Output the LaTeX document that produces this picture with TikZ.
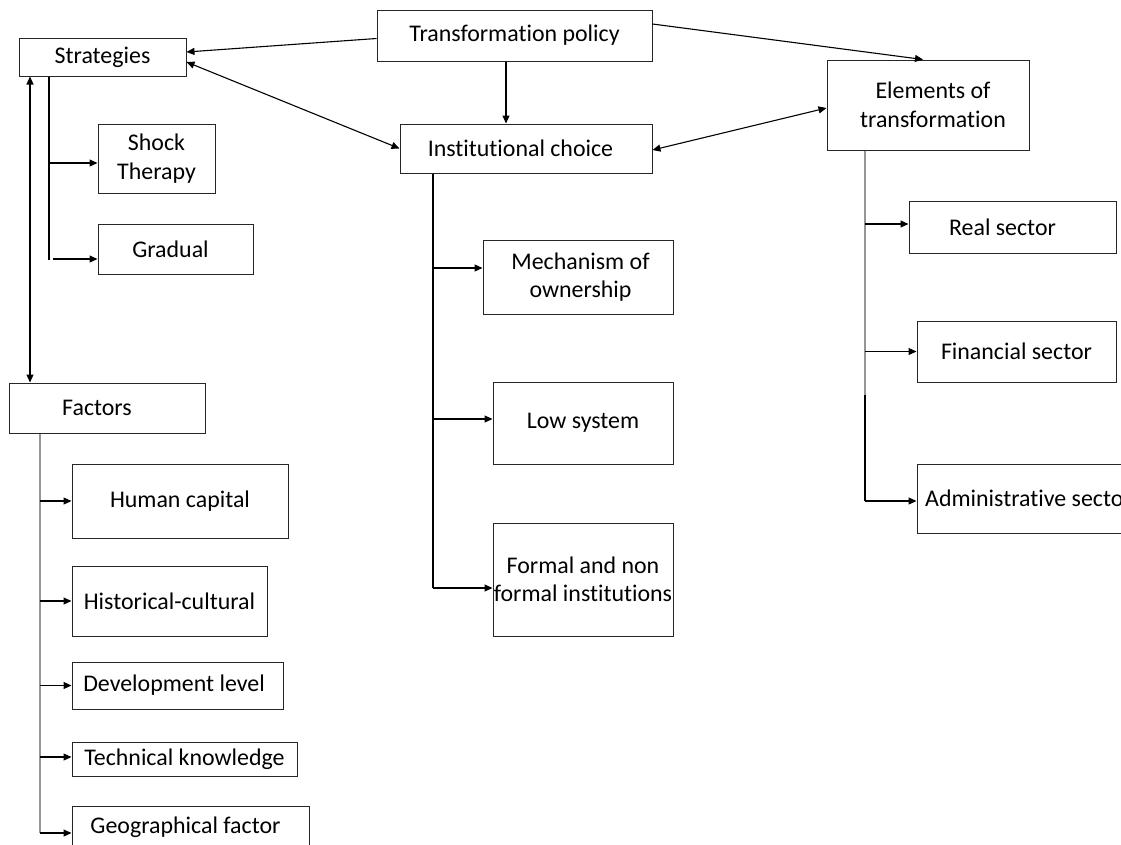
\documentclass[tikz,border=0pt]{standalone}
\usepackage{fontspec}
\setmainfont[Ligatures={NoCommon}]{Carlito}
\usetikzlibrary{arrows.meta}
\definecolor{tgray}{RGB}{150,150,150}
\tikzset{
  box/.style={draw=black!85, line width=1pt, inner sep=1pt, align=center,
    font=\fontsize{23.9}{28.5}\selectfont},
  arr/.style={line width=1.1pt, -{Triangle[length=8pt,width=7pt]}},
  darr/.style={line width=1.1pt, {Triangle[length=8pt,width=7pt]}-{Triangle[length=8pt,width=7pt]}},
  trunk/.style={line width=1.1pt},
}
\begin{document}
\begin{tikzpicture}[x=1pt,y=1pt]
\useasboundingbox (0,0) rectangle (1121,-844);
\clip (0,0) rectangle (1121,-844);
% boxes
\node[box, minimum width=167, minimum height=38] (strat) at (102.5,-57) {Strategies};
\node[box, minimum width=275, minimum height=51] (tp) at (514.5,-35.5) {Transformation policy};
\node[box, minimum width=252, minimum height=49] (ic) at (526,-148.5) {Institutional choice\hspace{11pt}};
\node[box, minimum width=202, minimum height=90] (elem) at (928,-105) {\hspace{10pt}Elements of\\\hspace{10pt}transformation};
\node[box, minimum width=117, minimum height=69] (shock) at (156.5,-158.5) {Shock\\Therapy};
\node[box, minimum width=155, minimum height=50] (gradual) at (175.5,-249) {Gradual\hspace{10pt}};
\node[box, minimum width=196, minimum height=50] (factors) at (107,-408) {Factors\hspace{20pt}};
\node[box, minimum width=216, minimum height=74] (human) at (180,-501) {Human capital};
\node[box, minimum width=195, minimum height=70] (hist) at (169.5,-601) {Historical-cultural};
\node[box, minimum width=211, minimum height=47] (dev) at (177.5,-685.5) {Development level\hspace{7pt}};
\node[box, minimum width=225, minimum height=34] (tech) at (184.5,-759) {Technical knowledge};
\node[box, minimum width=237, minimum height=42] (geo) at (190.5,-827) {Geographical factor\hspace{10pt}};
\node[box, minimum width=190, minimum height=74] (mech) at (578,-277) {\hspace{5pt}Mechanism of\\\hspace{5pt}ownership};
\node[box, minimum width=180, minimum height=82] (low) at (583,-423) {Low system};
\node[box, inner xsep=0pt, minimum width=180, minimum height=113] (formal) at (583,-579.5) {Formal and non\\formal institutions};
\node[box, minimum width=207, minimum height=52] (real) at (1012.5,-227) {Real sector\hspace{20pt}};
\node[box, minimum width=199, minimum height=61] (fin) at (1016.5,-351.5) {Financial sector};
\node[box, minimum width=223, minimum height=69] (admin) at (1028.5,-498.5) {Administrative sector};
% top connectors
\draw[arr] ([yshift=-3pt]tp.west) -- ([yshift=5pt]strat.east);
\draw[darr] ([yshift=-5pt]strat.east) -- (ic.west);
\draw[arr] ([xshift=-8.5pt]tp.south) -- ([xshift=-8.5pt]tp.south |- ic.north);
\draw[arr] ([yshift=11.5pt]tp.east) -- ([xshift=-5pt]elem.north);
\draw[darr] ([yshift=-1.5pt]ic.east) -- ([yshift=-3pt]elem.west);
% strategies <-> factors
\coordinate (lx) at (30,0);
\draw[darr] (strat.south -| lx) -- (factors.north -| lx);
% strategies trunk
\coordinate (sx) at (49,0);
\coordinate (send) at (49,-260);
\draw[trunk] (strat.south -| sx) -- (send);
\coordinate (tshock) at ([yshift=-4.5pt]shock.west);
\coordinate (tgrad) at ([yshift=-10pt]gradual.west);
\draw[arr] (sx |- tshock) -- (tshock);
\draw[arr] ([xshift=4pt]sx |- tgrad) -- (tgrad);
% factors trunk
\coordinate (fx) at (40,0);
\coordinate (tgeo) at ([yshift=-6pt]geo.west);
\coordinate (ttech) at ([yshift=2pt]tech.west);
\draw[trunk, tgray] (factors.south -| fx) -- (fx |- tgeo);
\draw[arr] (fx |- human.west) -- (human.west);
\draw[arr] (fx |- hist.west) -- (hist.west);
\draw[arr] (fx |- dev.west) -- (dev.west);
\draw[arr] (fx |- ttech) -- (ttech);
\draw[arr] (fx |- tgeo) -- (tgeo);
% institutional trunk
\coordinate (mx) at (433,0);
\coordinate (tmech) at ([yshift=9pt]mech.west);
\coordinate (tlow) at ([yshift=4pt]low.west);
\coordinate (tformal) at ([yshift=-8.5pt]formal.west);
\draw[trunk] (ic.south -| mx) -- (mx |- tformal);
\draw[arr] (mx |- tmech) -- (tmech);
\draw[arr] (mx |- tlow) -- (tlow);
\draw[arr] (mx |- tformal) -- (tformal);
% elements trunk
\coordinate (rx) at (865,0);
\coordinate (rmid) at (865,-395);
\coordinate (treal) at ([yshift=3pt]real.west);
\coordinate (tadmin) at ([yshift=-2.5pt]admin.west);
\draw[trunk, tgray] (elem.south -| rx) -- (rmid);
\draw[trunk] (rmid) -- (rx |- tadmin);
\draw[arr] (rx |- treal) -- (treal);
\draw[arr] (rx |- fin.west) -- (fin.west);
\draw[arr] (rx |- tadmin) -- (tadmin);
\end{tikzpicture}
\end{document}
